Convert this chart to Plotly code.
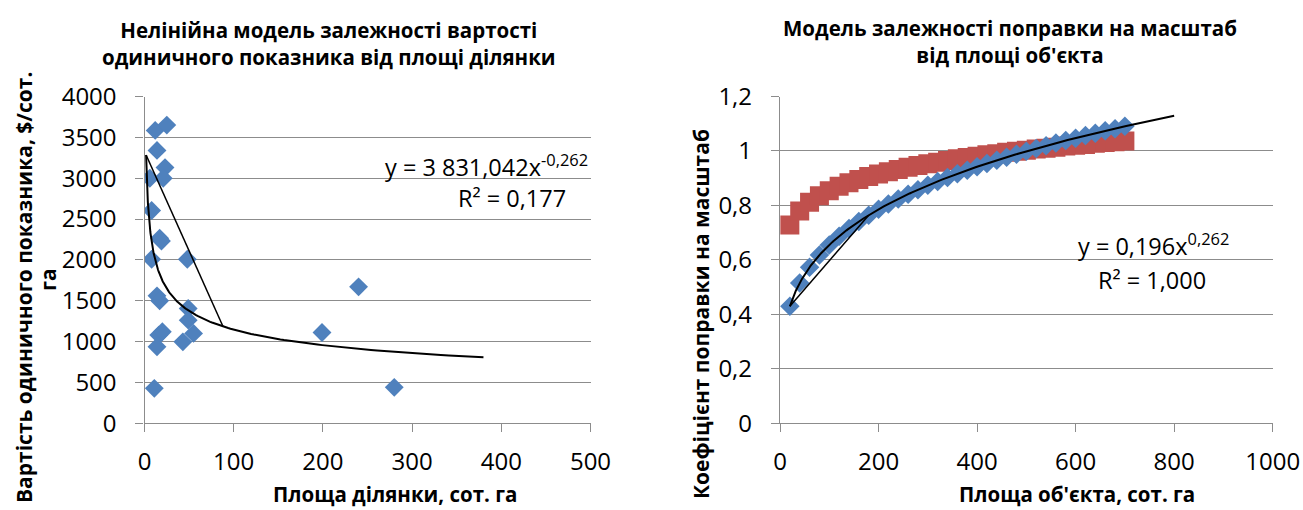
import plotly.graph_objects as go

W, H = 1303, 510

# ---------------- Left chart data ----------------
left_x = [12, 25, 14, 23, 6, 21, 8, 17, 19, 8, 48, 14, 17, 49, 49, 16, 20, 55, 43, 14, 11, 199, 240, 280]
left_y = [3585, 3650, 3340, 3130, 3000, 3000, 2605, 2265, 2230, 2008, 2008, 1560, 1500, 1405, 1262,
          1080, 1120, 1100, 997, 936, 428, 1112, 1670, 440]
left_coef_a = 3831.042
left_coef_b = -0.262
left_trend_start, left_trend_end, left_trend_chord = 1.8, 380, 88

# ---------------- Right chart data ----------------
right_x = [20, 40, 60, 80, 100, 120, 140, 160, 180, 200, 220, 240, 260, 280, 300, 320, 340, 360,
           380, 400, 420, 440, 460, 480, 500, 520, 540, 560, 580, 600, 620, 640, 660, 680, 700]
blue_y = [0.430, 0.515, 0.573, 0.618, 0.655, 0.687, 0.715, 0.741, 0.764, 0.786, 0.805, 0.824,
          0.841, 0.858, 0.874, 0.888, 0.903, 0.916, 0.929, 0.942, 0.954, 0.966, 0.977, 0.988,
          0.999, 1.009, 1.019, 1.029, 1.038, 1.047, 1.057, 1.065, 1.074, 1.082, 1.091]
red_y = [0.728, 0.780, 0.812, 0.836, 0.854, 0.870, 0.883, 0.895, 0.906, 0.915, 0.924, 0.932,
         0.940, 0.947, 0.953, 0.959, 0.965, 0.971, 0.976, 0.981, 0.986, 0.990, 0.995, 0.999,
         1.003, 1.007, 1.010, 1.014, 1.018, 1.021, 1.024, 1.028, 1.031, 1.034, 1.037]
right_coef_a = 0.196
right_coef_b = 0.262
right_trend_start, right_trend_end, right_trend_chord = 20, 800, 180

left_xticks = [0, 100, 200, 300, 400, 500]
left_yticks = [0, 500, 1000, 1500, 2000, 2500, 3000, 3500, 4000]
right_xticks = [0, 200, 400, 600, 800, 1000]
right_yticks = [0, 0.2, 0.4, 0.6, 0.8, 1.0, 1.2]
right_yticktext = ["0", "0,2", "0,4", "0,6", "0,8", "1", "1,2"]

BLUE = "#4F81BD"
RED = "#C0504D"
GRID = "#8c8c8c"
FONT = "Open Sans"


def power_curve(a, b, x0, x1, n=200):
    xs = [x0 * (x1 / x0) ** (i / (n - 1)) for i in range(n)]
    return xs, [a * x ** b for x in xs]


fig = go.Figure()

# Left scatter
fig.add_trace(go.Scatter(x=left_x, y=left_y, mode="markers", xaxis="x", yaxis="y",
                         marker=dict(symbol="diamond", size=14.5, color=BLUE, line=dict(width=0)),
                         showlegend=False))
lx, ly = power_curve(left_coef_a, left_coef_b, left_trend_start, left_trend_end)
fig.add_trace(go.Scatter(x=lx, y=ly, mode="lines", xaxis="x", yaxis="y",
                         line=dict(color="black", width=2), showlegend=False))
cx = [left_trend_start, left_trend_chord]
fig.add_trace(go.Scatter(x=cx, y=[left_coef_a * v ** left_coef_b for v in cx], mode="lines",
                         xaxis="x", yaxis="y", line=dict(color="black", width=1.5), showlegend=False))

# Right scatter
fig.add_trace(go.Scatter(x=right_x, y=red_y, mode="markers", xaxis="x2", yaxis="y2",
                         marker=dict(symbol="square", size=19, color=RED, line=dict(width=0)),
                         showlegend=False))
fig.add_trace(go.Scatter(x=right_x, y=blue_y, mode="markers", xaxis="x2", yaxis="y2",
                         marker=dict(symbol="diamond", size=15, color=BLUE, line=dict(width=0)),
                         showlegend=False))
rx, ry = power_curve(right_coef_a, right_coef_b, right_trend_start, right_trend_end)
fig.add_trace(go.Scatter(x=rx, y=ry, mode="lines", xaxis="x2", yaxis="y2",
                         line=dict(color="black", width=2), showlegend=False))
cx2 = [right_trend_start, right_trend_chord]
fig.add_trace(go.Scatter(x=cx2, y=[right_coef_a * v ** right_coef_b for v in cx2], mode="lines",
                         xaxis="x2", yaxis="y2", line=dict(color="black", width=1.5), showlegend=False))

tickfont = dict(family=FONT, size=24, color="black")
common_x = dict(showgrid=False, zeroline=False, showline=True, linecolor=GRID, linewidth=1.3,
                ticks="outside", ticklen=8, tickcolor=GRID, tickwidth=1.3, tickfont=tickfont,
                ticklabelstandoff=9, automargin=False)
common_y = dict(showgrid=True, gridcolor=GRID, gridwidth=1.3, zeroline=False, showline=True,
                linecolor=GRID, linewidth=1.3, ticks="outside", ticklen=8, tickcolor=GRID,
                tickwidth=1.3, tickfont=tickfont, ticklabelstandoff=14, automargin=False)

y0 = 1 - 423.3 / H
y1 = 1 - 96.5 / H

fig.update_layout(
    width=W, height=H, margin=dict(l=0, r=0, t=0, b=0, autoexpand=False),
    paper_bgcolor="white", plot_bgcolor="white",
    xaxis=dict(domain=[144.5 / W, 590.5 / W], range=[0, 500], tickvals=left_xticks,
               ticktext=[str(v) for v in left_xticks], anchor="y", **common_x),
    yaxis=dict(domain=[y0, y1], range=[0, 4000], tickvals=left_yticks,
               ticktext=[str(v) for v in left_yticks], anchor="x", **common_y),
    xaxis2=dict(domain=[780 / W, 1272.7 / W], range=[0, 1000], tickvals=right_xticks,
                ticktext=[str(v) for v in right_xticks], anchor="y2", **common_x),
    yaxis2=dict(domain=[y0, y1], range=[0, 1.2], tickvals=right_yticks,
                ticktext=right_yticktext, anchor="x2", **common_y),
)


def px_ann(text, x, y, size, bold=False, xanchor="center", angle=0, yanchor="middle"):
    return dict(text=f"<b>{text}</b>" if bold else text, x=x / W, y=1 - y / H,
                xref="paper", yref="paper", xanchor=xanchor, yanchor=yanchor,
                showarrow=False, textangle=angle,
                font=dict(family=FONT, size=size, color="black"))


TS = 20.5
anns = [
    px_ann("Нелінійна модель залежності вартості<br>одиничного показника від площі ділянки", 329, 43, TS, True),
    px_ann("Модель залежності поправки на масштаб<br>від площі об'єкта", 1010, 41, TS, True),
    px_ann("Площа ділянки, сот. га", 395, 510, TS, True, yanchor="bottom"),
    px_ann("Площа об'єкта, сот. га", 1077, 510, TS, True, yanchor="bottom"),
    px_ann("Вартість одиничного показника, $/сот.", 24, 288, 21, True, angle=-90),
    px_ann("га", 48, 280, 21, True, angle=-90),
    px_ann("Коефіцієнт поправки на масштаб", 701, 314, 21, True, angle=-90),
    px_ann("y = 3 831,042x<sup>-0,262</sup>", 590, 166, 23.5, False, xanchor="right"),
    px_ann("R² = 0,177", 568, 198, 23.5, False, xanchor="right"),
    px_ann("y = 0,196x<sup>0,262</sup>", 1231, 244, 23.5, False, xanchor="right"),
    px_ann("R² = 1,000", 1208, 280, 23.5, False, xanchor="right"),
]
fig.update_layout(annotations=anns)

fig.write_html("out.html", config={"displayModeBar": False},
               post_script="document.body.style.margin='0';document.body.style.padding='0';")
